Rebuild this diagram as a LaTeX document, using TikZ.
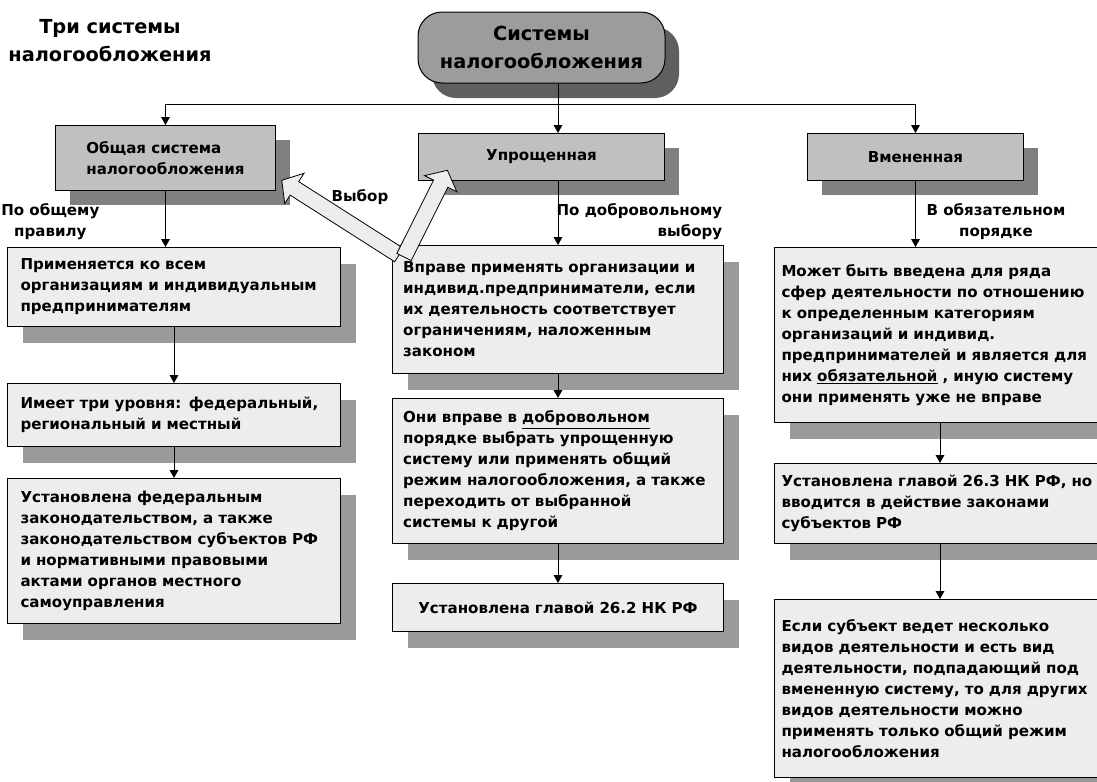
\documentclass[tikz,border=0pt]{standalone}
\usepackage{fontspec}
\setmainfont{DejaVu Sans}
\usetikzlibrary{arrows.meta,shadows}

\definecolor{rootgray}{HTML}{9C9C9C}
\definecolor{rootshade}{HTML}{5F5F5F}
\definecolor{kindgray}{HTML}{C0C0C0}
\definecolor{kindshade}{HTML}{808080}
\definecolor{notefill}{HTML}{EDEDED}
\definecolor{noteshade}{HTML}{9A9A9A}

\newcommand{\headfont}{\bfseries\fontsize{14.5}{21}\selectfont}
\newcommand{\bodyfont}{\bfseries\fontsize{11.3}{15.75}\selectfont}

\begin{document}
\begin{tikzpicture}[x=0.75pt, y=-0.75pt,
    every node/.style={font=\bodyfont},
    rootbox/.style={draw, line width=0.75pt, fill=rootgray, rounded corners=18pt,
      minimum width=185.25pt, minimum height=53.25pt, font=\headfont, align=center,
      drop shadow={shadow xshift=10.5pt, shadow yshift=-11.25pt, fill=rootshade, opacity=1}},
    kindbox/.style={draw, line width=0.75pt, fill=kindgray, anchor=north west,
      minimum height=35.25pt, align=left,
      drop shadow={shadow xshift=10.5pt, shadow yshift=-10.5pt, fill=kindshade, opacity=1}},
    notebox/.style={draw, line width=0.75pt, fill=notefill, anchor=north west, align=left,
      drop shadow={shadow xshift=11.25pt, shadow yshift=-12pt, fill=noteshade, opacity=1}},
    leftnote/.style={notebox, inner xsep=9.75pt, text width=230.25pt},
    midnote/.style={notebox, inner xsep=8pt, text width=232.25pt},
    rightnote/.style={notebox, inner xsep=5.25pt, text width=237.75pt},
    way/.style={align=center},
    arr/.style={-{Triangle[length=6pt, width=6.5pt]}, line width=0.75pt},
    choice/.style={draw, fill=notefill, line width=0.6pt}]
  \useasboundingbox (0,0) rectangle (1097,782);

  \node[font=\headfont, align=center] (title) at (110,41) {Три системы\\налогообложения};
  \node[rootbox] (root) at (541.5,47.5) {Системы\\налогообложения};

  \node[kindbox, minimum width=165pt, minimum height=48.75pt] (obsh) at (55,125) {Общая система\\налогообложения};
  \node[kindbox, minimum width=184.5pt, align=center] (upr) at (418,133) {Упрощенная};
  \node[kindbox, minimum width=162pt, align=center] (vmen) at (807,133) {Вмененная};

  \node[leftnote, minimum height=59.25pt] (L1) at (7,247) {Применяется ко всем\\организациям и индивидуальным\\предпринимателям};
  \node[leftnote, minimum height=47.25pt] (L2) at (7,383) {Имеет три уровня: федеральный,\\региональный и местный};
  \node[leftnote, minimum height=108.75pt] (L3) at (7,478) {Установлена федеральным\\законодательством, а также\\законодательством субъектов РФ\\и нормативными правовыми\\актами органов местного\\самоуправления};

  \node[midnote, minimum height=96pt] (M1) at (392,245) {Вправе применять организации и\\индивид.предприниматели, если\\их деятельность соответствует\\ограничениям, наложенным\\законом};
  \node[midnote, minimum height=108.75pt] (M2) at (392,398) {Они вправе в \underline{добровольном}\\порядке выбрать упрощенную\\систему или применять общий\\режим налогообложения, а также\\переходить от выбранной\\системы к другой};
  \node[midnote, minimum height=36pt, align=center] (M3) at (392,583) {Установлена главой 26.2 НК РФ};

  \node[rightnote, minimum height=131.25pt] (R1) at (774,247) {Может быть введена для ряда\\сфер деятельности по отношению\\к определенным категориям\\организаций и индивид.\\предпринимателей и является для\\них \underline{обязательной} , иную систему\\они применять уже не вправе};
  \node[rightnote, minimum height=60pt] (R2) at (774,463) {Установлена главой 26.3 НК РФ, но\\вводится в действие законами\\субъектов РФ};
  \node[rightnote, minimum height=133.5pt] (R3) at (774,599) {Если субъект ведет несколько\\видов деятельности и есть вид\\деятельности, подпадающий под\\вмененную систему,  то для других\\видов деятельности можно\\применять только общий режим\\налогообложения};

  \node[way, anchor=west, inner xsep=0pt] (rule) at (1,222) {По общему\\правилу};
  \node[way, align=right, anchor=east] (free) at (727,222) {По добровольному\\выбору};
  \node[way] (must) at (996,222) {В обязательном\\порядке};
  \node (pick) at (360,197) {Выбор};

  \coordinate (junc) at (557.5,104);
  \draw[arr] (root.south -| M1.north) -- (upr.north -| M1.north);
  \draw[arr] (junc) -| (obsh.north);
  \draw[arr] (junc) -| (vmen.north);

  \draw[arr] (obsh.south) -- (obsh.south |- L1.north);
  \draw[arr] (L1.south) -- (L2.north);
  \draw[arr] (L2.south) -- (L3.north);

  \draw[arr] (upr.south -| M1.north) -- (M1.north);
  \draw[arr] (M1.south) -- (M2.north);
  \draw[arr] (M2.south) -- (M3.north);

  \draw[arr] (vmen.south) -- (vmen.south |- R1.north);
  \draw[arr] (R1.south) -- (R2.north);
  \draw[arr] (R2.south) -- (R3.north);

  \coordinate (pickfoot) at (399,255);
  \coordinate (pickfoot2) at (404,257);
  \begin{scope}[shift={(pickfoot)}, rotate=147.5]
    \draw[choice] (0,-8) -- (124,-8) -- (124,-18) -- (139,0) -- (124,18) -- (124,8) -- (0,8) -- cycle;
  \end{scope}
  \begin{scope}[shift={(pickfoot2)}, rotate=63.4]
    \draw[choice] (0,-8) -- (82,-8) -- (82,-18) -- (97,0) -- (82,18) -- (82,8) -- (0,8) -- cycle;
  \end{scope}
\end{tikzpicture}
\end{document}
